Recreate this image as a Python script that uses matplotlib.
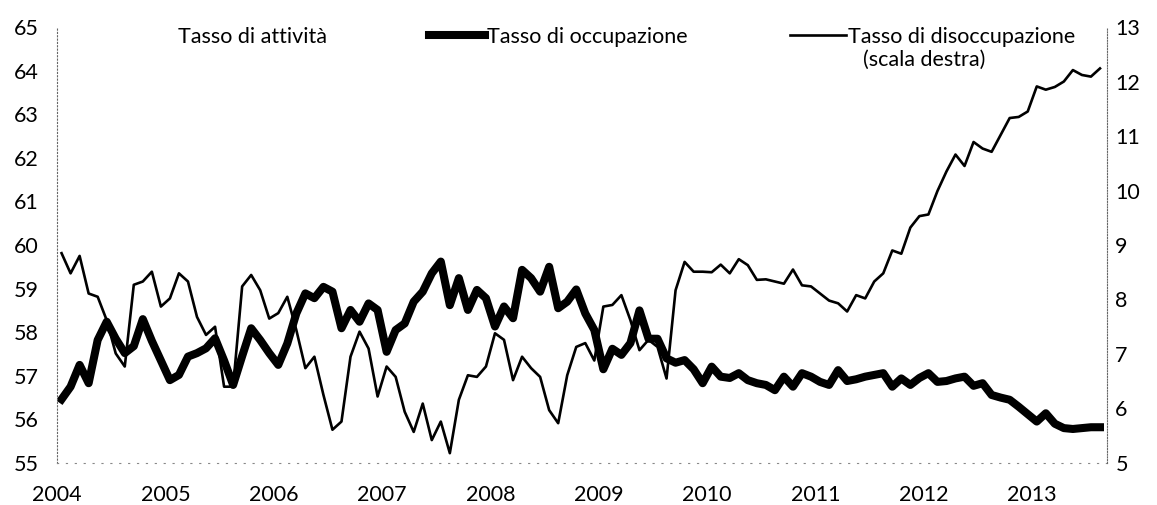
import numpy as np
import matplotlib.pyplot as plt
from matplotlib.lines import Line2D

plt.rcParams['font.family'] = ['Lato', 'DejaVu Sans']
plt.rcParams['font.size'] = 15.5

# Dati mensili, gennaio 2004 - agosto 2013
anno_inizio = 2004
occupazione = [
    56.46, 56.75, 57.25, 56.83, 57.82, 58.24, 57.85, 57.52, 57.68, 58.30, 57.80, 57.35,
    56.90, 57.02, 57.44, 57.52, 57.63, 57.86, 57.35, 56.79, 57.45, 58.09, 57.82, 57.52,
    57.25, 57.74, 58.43, 58.89, 58.78, 59.04, 58.93, 58.09, 58.51, 58.24, 58.66, 58.51,
    57.55, 58.05, 58.20, 58.70, 58.93, 59.35, 59.62, 58.62, 59.24, 58.51, 58.97, 58.78,
    58.13, 58.59, 58.32, 59.43, 59.24, 58.93, 59.50, 58.55, 58.70, 58.98, 58.43, 58.05,
    57.15, 57.62, 57.48, 57.75, 58.50, 57.85, 57.85, 57.40, 57.30, 57.36, 57.15, 56.83,
    57.21, 56.98, 56.95, 57.06, 56.90, 56.83, 56.79, 56.67, 56.98, 56.75, 57.06, 56.98,
    56.86, 56.79, 57.13, 56.88, 56.92, 56.98, 57.02, 57.06, 56.75, 56.94, 56.79, 56.95,
    57.06, 56.86, 56.88, 56.94, 56.98, 56.77, 56.83, 56.56, 56.50, 56.45, 56.29, 56.12,
    55.95, 56.14, 55.90, 55.80, 55.78, 55.80, 55.82, 55.82,
]
disoccupazione = [
    8.85, 8.48, 8.80, 8.11, 8.05, 7.62, 7.01, 6.77, 8.27, 8.33, 8.51, 7.87,
    8.02, 8.48, 8.33, 7.68, 7.35, 7.50, 6.40, 6.40, 8.24, 8.45, 8.17, 7.65,
    7.75, 8.05, 7.44, 6.74, 6.95, 6.25, 5.61, 5.76, 6.95, 7.41, 7.10, 6.22,
    6.77, 6.58, 5.94, 5.57, 6.09, 5.42, 5.76, 5.18, 6.16, 6.61, 6.58, 6.77,
    7.38, 7.26, 6.52, 6.95, 6.74, 6.58, 5.97, 5.73, 6.61, 7.13, 7.20, 6.88,
    7.87, 7.90, 8.08, 7.62, 7.07, 7.26, 7.13, 6.55, 8.17, 8.69, 8.51, 8.51,
    8.50, 8.64, 8.48, 8.74, 8.63, 8.36, 8.37, 8.33, 8.29, 8.55, 8.26, 8.24,
    8.11, 7.98, 7.93, 7.78, 8.08, 8.02, 8.33, 8.48, 8.90, 8.84, 9.32, 9.53,
    9.56, 9.99, 10.35, 10.66, 10.45, 10.89, 10.77, 10.71, 11.02, 11.33, 11.35, 11.45,
    11.91, 11.85, 11.90, 12.00, 12.21, 12.12, 12.09, 12.24,
]
anni = list(range(2004, 2014))
tick_sinistra = list(range(55, 66))
tick_destra = list(range(5, 14))
etichette = ["Tasso di attività", "Tasso di occupazione", "Tasso di disoccupazione"]

mesi = np.arange(len(occupazione))
x = anno_inizio + (mesi + 0.5) / 12

fig = plt.figure(figsize=(11.57, 5.05), dpi=100)
ax = fig.add_axes([0.0493, 0.0832, 0.9075, 0.8633])
ax2 = ax.twinx()

linea_occ, = ax.plot(x, occupazione, color="black", lw=5.8, solid_joinstyle="round")
linea_dis, = ax2.plot(x, disoccupazione, color="black", lw=1.9)

ax.set_xlim(2004, 2013.69)
ax.set_ylim(55, 65)
ax2.set_ylim(5, 13)
ax.set_xticks(anni)
ax.set_yticks(tick_sinistra)
ax2.set_yticks(tick_destra)

ax.tick_params(axis="y", length=0, pad=13.5)
ax.tick_params(axis="x", length=0, pad=16)
ax2.tick_params(axis="y", length=0, pad=6)

# assi tratteggiati come nell'originale
ax.spines["top"].set_visible(False)
ax.spines["right"].set_visible(False)
ax.spines["left"].set_linestyle((0, (1, 2)))
ax.spines["left"].set_color("#666666")
ax.spines["left"].set_linewidth(0.8)
ax.spines["bottom"].set_linestyle((0, (1, 7)))
ax.spines["bottom"].set_color("#888888")
ax.spines["bottom"].set_linewidth(0.8)
for lato in ["top", "left", "bottom"]:
    ax2.spines[lato].set_visible(False)
ax2.spines["right"].set_linestyle((0, (1, 1.5)))
ax2.spines["right"].set_color("#666666")
ax2.spines["right"].set_linewidth(0.8)

# legenda (la serie del tasso di attività non è leggibile nella scansione)
maniglia_att = Line2D([], [], color="none")
leg = ax2.legend([maniglia_att, linea_occ, linea_dis], etichette, ncol=3,
                 loc="upper center", bbox_to_anchor=(0.5148, 1.0), frameon=False,
                 handlelength=2.6, handletextpad=0.1, columnspacing=4.75,
                 borderpad=0, borderaxespad=0)

# seconda riga dell'ultima voce, sotto il testo della legenda
fig.canvas.draw()
riquadro = leg.get_texts()[2].get_window_extent().transformed(fig.transFigure.inverted())
fig.text(riquadro.x0 + 0.013, riquadro.y0 - 0.006, "(scala destra)", ha="left", va="top")

fig.savefig("out.png", dpi=100)
